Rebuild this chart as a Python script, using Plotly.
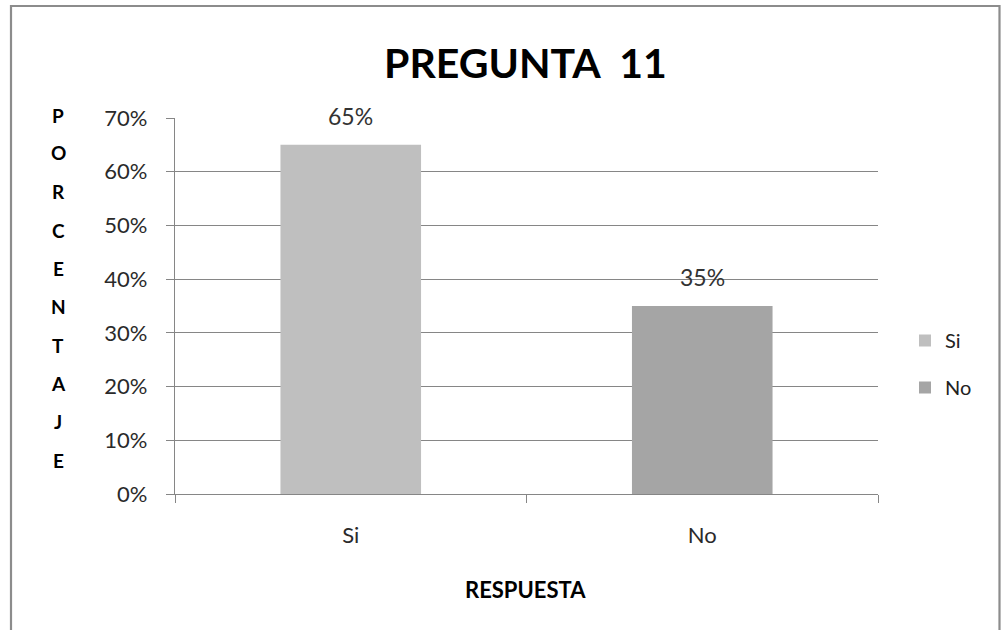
import plotly.graph_objects as go

categories = ["Si", "No"]
values = [0.65, 0.35]
labels = ["65%", "35%"]
colors = ["#BFBFBF", "#A5A5A5"]
y_ticks = [0, 0.1, 0.2, 0.3, 0.4, 0.5, 0.6, 0.7]
y_tick_text = ["0%", "10%", "20%", "30%", "40%", "50%", "60%", "70%"]
title_text = "PREGUNTA  11"
y_title = "PORCENTAJE"
x_title = "RESPUESTA"

FONT = "Lato, Open Sans, sans-serif"

fig = go.Figure()
for i, (c, v) in enumerate(zip(categories, values)):
    fig.add_trace(go.Bar(
        x=[c], y=[v], name=c, marker=dict(color=colors[i], line=dict(width=0)),
        width=0.4, legendgroup=c, showlegend=True,
    ))

L, R, T, B = 175, 878, 118, 494


def px_x(p):
    return (p - L) / (R - L)


def px_y(p):
    return (B - p) / (B - T)


annotations = []
for c, v, t in zip(categories, values, labels):
    annotations.append(dict(x=c, y=v, text=t, showarrow=False, xref="x", yref="y",
                            yanchor="middle", yshift=29,
                            font=dict(family=FONT, size=23, color="#333333")))

# stacked vertical y-axis title
letter_px = [115.7, 152, 191.7, 230, 268, 306.7, 345, 383, 421.7, 460]
for ch, py in zip(y_title, letter_px):
    annotations.append(dict(x=px_x(58), y=px_y(py), xref="paper", yref="paper",
                            text="<b>%s</b>" % ch, showarrow=False, xanchor="center", yanchor="middle",
                            font=dict(family=FONT, size=19, color="#000000")))

annotations.append(dict(x=px_x(525), y=px_y(589.5), xref="paper", yref="paper",
                        text="<b>%s</b>" % x_title, showarrow=False, xanchor="center", yanchor="middle",
                        font=dict(family=FONT, size=22, color="#000000")))

annotations.append(dict(x=px_x(525), y=px_y(62.5), xref="paper", yref="paper",
                        text="<b>%s</b>" % title_text, showarrow=False, xanchor="center", yanchor="middle",
                        font=dict(family=FONT, size=41, color="#000000")))

bx0, bx1, by_top, by_bot = px_x(11), px_x(999.5), px_y(6), px_y(700)
border_path = "M %f %f L %f %f L %f %f L %f %f" % (bx0, by_bot, bx0, by_top, bx1, by_top, bx1, by_bot)

fig.update_layout(
    width=1006, height=630,
    margin=dict(l=L, r=1006 - R, t=T, b=630 - B, pad=0),
    paper_bgcolor="white", plot_bgcolor="white",
    barmode="overlay",
    annotations=annotations,
    showlegend=True,
    legend=dict(x=px_x(905), y=px_y(364), xanchor="left", yanchor="middle",
                font=dict(family=FONT, size=20, color="#222222"), tracegroupgap=18,
                traceorder="grouped", itemwidth=30, bgcolor="rgba(0,0,0,0)"),
    shapes=[dict(type="path", xref="paper", yref="paper", path=border_path,
                 line=dict(color="#8C8C8C", width=2.2), layer="below")],
)
fig.update_xaxes(
    type="category", categoryorder="array", categoryarray=categories,
    showline=True, linecolor="#868686", linewidth=1.2,
    ticks="outside", tickson="boundaries", ticklen=8, tickcolor="#868686",
    tickfont=dict(family=FONT, size=22, color="#2a2a2a"), showgrid=False,
    ticklabelstandoff=21,
)
fig.update_yaxes(
    range=[0, 0.7], tickvals=y_ticks, ticktext=y_tick_text,
    showline=True, linecolor="#868686", linewidth=1.2,
    ticks="outside", ticklen=8, tickcolor="#868686",
    showgrid=True, gridcolor="#868686", gridwidth=1,
    tickfont=dict(family=FONT, size=22, color="#2a2a2a"), zeroline=False,
    ticklabelstandoff=14,
)

fig.write_html("out.html", config={"displayModeBar": False},
               post_script="document.body.style.margin='0px';document.body.style.overflow='hidden';")
